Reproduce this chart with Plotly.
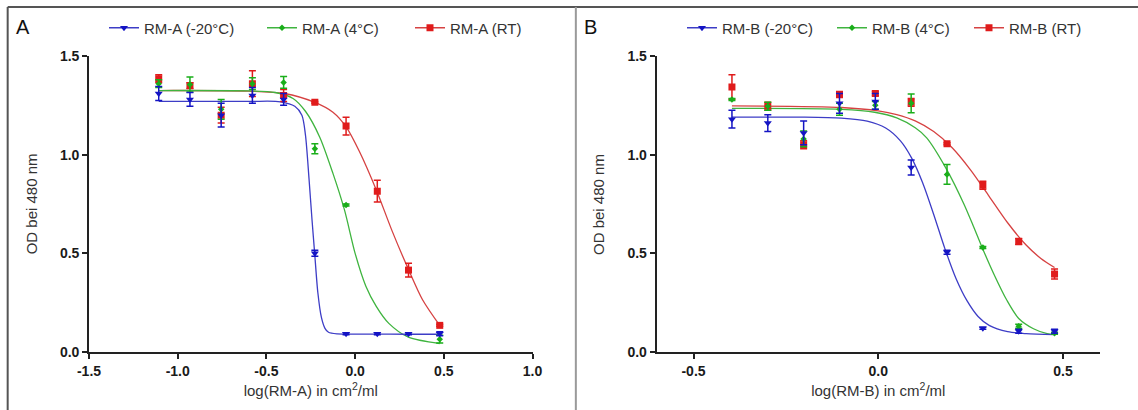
import plotly.graph_objects as go

# ---------------- data ----------------
xA = [-1.107, -0.931, -0.755, -0.579, -0.403, -0.227, -0.051, 0.125, 0.301, 0.477]
a_blue = [1.31, 1.28, 1.20, 1.30, 1.28, 0.50, 0.093, 0.093, 0.092, 0.092]
a_blue_err = [0.035, 0.035, 0.06, 0.04, 0.03, 0.015, 0.005, 0.005, 0.005, 0.01]
a_green = [1.36, 1.355, 1.23, 1.36, 1.366, 1.03, 0.745, None, None, 0.065]
a_green_err = [0.02, 0.038, 0.05, 0.03, 0.03, 0.025, 0.005, None, None, 0.02]
a_red = [1.385, 1.35, 1.20, 1.36, 1.30, 1.265, 1.145, 0.815, 0.415, 0.135]
a_red_err = [0.02, 0.015, 0.04, 0.065, 0.03, 0.005, 0.045, 0.055, 0.035, 0.005]

xB = [-0.396, -0.299, -0.202, -0.105, -0.008, 0.089, 0.186, 0.283, 0.380, 0.477]
b_blue = [1.18, 1.16, 1.11, 1.26, 1.27, 0.935, 0.505, 0.12, 0.105, 0.105]
b_blue_err = [0.045, 0.042, 0.06, 0.05, 0.04, 0.038, 0.01, 0.005, 0.01, 0.01]
b_green = [1.28, 1.245, 1.08, 1.23, 1.25, 1.26, 0.90, 0.53, 0.13, 0.095]
b_green_err = [0.005, 0.02, 0.04, 0.03, 0.02, 0.047, 0.05, 0.005, 0.01, 0.005]
b_red = [1.343, 1.245, 1.05, 1.305, 1.31, 1.265, 1.055, 0.845, 0.56, 0.395]
b_red_err = [0.062, 0.02, 0.02, 0.015, 0.01, 0.02, 0.005, 0.02, 0.015, 0.025]

# fitted curves
fitA_blue_x = [-1.107, -0.60, -0.42, -0.34, -0.30, -0.28, -0.26, -0.243, -0.228, -0.21, -0.19, -0.17, -0.15, -0.10, 0.10, 0.30, 0.477]
fitA_blue_y = [1.27, 1.27, 1.268, 1.245, 1.20, 1.10, 0.88, 0.67, 0.50, 0.30, 0.175, 0.12, 0.10, 0.092, 0.091, 0.09, 0.09]
fitA_green_x = [-1.107, -0.60, -0.45, -0.35, -0.28, -0.20, -0.125, -0.06, 0.0, 0.06, 0.12, 0.19, 0.30, 0.477]
fitA_green_y = [1.325, 1.323, 1.315, 1.285, 1.22, 1.09, 0.905, 0.72, 0.50, 0.335, 0.23, 0.145, 0.075, 0.043]
fitA_red_x = [-1.107, -0.60, -0.40, -0.227, -0.125, -0.05, 0.025, 0.12, 0.21, 0.30, 0.38, 0.477]
fitA_red_y = [1.325, 1.322, 1.31, 1.265, 1.215, 1.14, 1.015, 0.82, 0.61, 0.42, 0.265, 0.135]

fitB_blue_x = [-0.396, -0.20, -0.10, -0.03, 0.02, 0.06, 0.09, 0.12, 0.15, 0.18, 0.21, 0.24, 0.27, 0.30, 0.35, 0.40, 0.477]
fitB_blue_y = [1.19, 1.19, 1.185, 1.17, 1.135, 1.07, 0.984, 0.858, 0.697, 0.525, 0.374, 0.26, 0.18, 0.135, 0.103, 0.093, 0.088]
fitB_green_x = [-0.396, -0.10, -0.01, 0.05, 0.10, 0.131, 0.186, 0.231, 0.258, 0.281, 0.312, 0.348, 0.38, 0.42, 0.457, 0.477]
fitB_green_y = [1.235, 1.23, 1.215, 1.186, 1.136, 1.085, 0.922, 0.753, 0.635, 0.53, 0.398, 0.262, 0.17, 0.118, 0.093, 0.088]
fitB_red_x = [-0.396, -0.10, 0.0, 0.05, 0.10, 0.15, 0.20, 0.25, 0.30, 0.35, 0.40, 0.44, 0.477]
fitB_red_y = [1.247, 1.239, 1.222, 1.203, 1.171, 1.117, 1.035, 0.922, 0.789, 0.655, 0.542, 0.474, 0.428]

names_A = ["RM-A (-20°C)", "RM-A (4°C)", "RM-A (RT)"]
names_B = ["RM-B (-20°C)", "RM-B (4°C)", "RM-B (RT)"]
y_ticks = [0.0, 0.5, 1.0, 1.5]
y_tick_text = ["0.0", "0.5", "1.0", "1.5"]
xA_ticks = [-1.5, -1.0, -0.5, 0.0, 0.5, 1.0]
xA_tick_text = ["-1.5", "-1.0", "-0.5", "0.0", "0.5", "1.0"]
xB_ticks = [-0.5, 0.0, 0.5]
xB_tick_text = ["-0.5", "0.0", "0.5"]

# ---------------- layout geometry ----------------
W, H = 1138, 410
L, R, T, B = 89.3, 38, 56, 58.3
PW, PH = W - L - R, H - T - B


def px(x):
    return (x - L) / PW


def py(y):
    return (H - B - y) / PH


MARK = {"blue": "#1414c4", "green": "#1aae1a", "red": "#e01b1b"}
LINE = {"blue": "#3d3dc6", "green": "#3fb43f", "red": "#d64242"}
SYM = {"blue": "triangle-down", "green": "diamond", "red": "square"}
SIZE = {"blue": 7, "green": 5, "red": 7}
FONT = "Arial, 'Liberation Sans', sans-serif"

fig = go.Figure()

panels = [
    ("x", "y", xA, {"red": (a_red, a_red_err), "green": (a_green, a_green_err), "blue": (a_blue, a_blue_err)},
     {"red": (fitA_red_x, fitA_red_y), "green": (fitA_green_x, fitA_green_y), "blue": (fitA_blue_x, fitA_blue_y)},
     names_A, 0),
    ("x2", "y2", xB, {"red": (b_red, b_red_err), "green": (b_green, b_green_err), "blue": (b_blue, b_blue_err)},
     {"red": (fitB_red_x, fitB_red_y), "green": (fitB_green_x, fitB_green_y), "blue": (fitB_blue_x, fitB_blue_y)},
     names_B, 3),
]

for xa, ya, xs, pts, fits, names, lg0 in panels:
    for c in ["red", "green", "blue"]:
        fx, fy = fits[c]
        fig.add_trace(go.Scatter(x=fx, y=fy, xaxis=xa, yaxis=ya, mode="lines",
                                 line=dict(color=LINE[c], width=1.3, shape="spline", smoothing=0.8),
                                 showlegend=False, hoverinfo="skip"))
    for c in ["red", "green", "blue"]:
        vals, errs = pts[c]
        fig.add_trace(go.Scatter(x=xs, y=vals, xaxis=xa, yaxis=ya, mode="markers",
                                 marker=dict(color=MARK[c], symbol=SYM[c], size=SIZE[c], line=dict(width=0)),
                                 error_y=dict(type="data", array=errs, visible=True, color=MARK[c],
                                              thickness=1.5, width=3.5),
                                 showlegend=False))
    for i, c in enumerate(["blue", "green", "red"]):
        lg = "legend" if lg0 + i == 0 else "legend%d" % (lg0 + i + 1)
        fig.add_trace(go.Scatter(x=[None], y=[None], xaxis=xa, yaxis=ya, mode="lines+markers",
                                 name=names[i], legend=lg,
                                 line=dict(color=LINE[c], width=1.3),
                                 marker=dict(color=MARK[c], symbol=SYM[c], size=SIZE[c])))

# legends: one per entry, placed where the reference puts them
text_left = [144, 302, 450, 722, 872, 1009]
leg_y = 1 - 28 / H
legend_layout = {}
for i, tx in enumerate(text_left):
    key = "legend" if i == 0 else "legend%d" % (i + 1)
    legend_layout[key] = dict(xref="container", yref="container", x=(tx - 40) / W, y=leg_y,
                              xanchor="left", yanchor="middle", bgcolor="rgba(0,0,0,0)",
                              font=dict(family=FONT, size=15, color="#333333"),
                              borderwidth=0, itemclick=False)

tickfont = dict(family=FONT, size=14, color="#1a1a1a", weight="bold")
titlefont = dict(family=FONT, size=15, color="#333333")
axis_common = dict(showline=True, linecolor="#222222", linewidth=1.7, ticks="outside", ticklen=5,
                   tickwidth=1.7, tickcolor="#222222", showgrid=False, zeroline=False, mirror=False,
                   tickfont=tickfont, automargin=False)

xa_dom = [0, (532.7 - L) / PW]
xb_dom = [(656.7 - L) / PW, 1]

fig.update_layout(
    width=W, height=H,
    margin=dict(l=L, r=R, t=T, b=B, pad=0, autoexpand=False),
    paper_bgcolor="white", plot_bgcolor="white",
    font=dict(family=FONT),
    xaxis=dict(domain=xa_dom, range=[-1.5, 1.0], tickvals=xA_ticks, ticktext=xA_tick_text, anchor="y",
               title=dict(text="log(RM-A) in cm<sup>2</sup>/ml", font=titlefont, standoff=8), **axis_common),
    yaxis=dict(domain=[0, 1], range=[0, 1.5], tickvals=y_ticks, ticktext=y_tick_text, anchor="x", **axis_common),
    xaxis2=dict(domain=xb_dom, range=[-0.6, 0.6], tickvals=xB_ticks, ticktext=xB_tick_text, anchor="y2",
                title=dict(text="log(RM-B) in cm<sup>2</sup>/ml", font=titlefont, standoff=8), **axis_common),
    yaxis2=dict(domain=[0, 1], range=[0, 1.5], tickvals=y_ticks, ticktext=y_tick_text, anchor="x2", **axis_common),
    **legend_layout,
)

# y-axis titles
for cx in [31.5, 598]:
    fig.add_annotation(text="OD bei 480 nm", x=px(cx), y=py(204), xref="paper", yref="paper",
                       showarrow=False, textangle=-90, xanchor="center", yanchor="middle",
                       font=titlefont)

# panel letters
for letter, cx in [("A", 23), ("B", 591)]:
    fig.add_annotation(text=letter, x=px(cx), y=py(27), xref="paper", yref="paper",
                       showarrow=False, xanchor="center", yanchor="middle",
                       font=dict(family=FONT, size=20, color="#111111"))

# frame lines of the figure
fig.add_shape(type="line", xref="paper", yref="paper", x0=px(8), x1=px(W), y0=py(7), y1=py(7),
              line=dict(color="#555555", width=2))
fig.add_shape(type="line", xref="paper", yref="paper", x0=px(8), x1=px(8), y0=py(7), y1=py(H),
              line=dict(color="#555555", width=2))
fig.add_shape(type="line", xref="paper", yref="paper", x0=px(576), x1=px(576), y0=py(7), y1=py(H),
              line=dict(color="#9a9a9a", width=2))

fig.write_html("out.html")
